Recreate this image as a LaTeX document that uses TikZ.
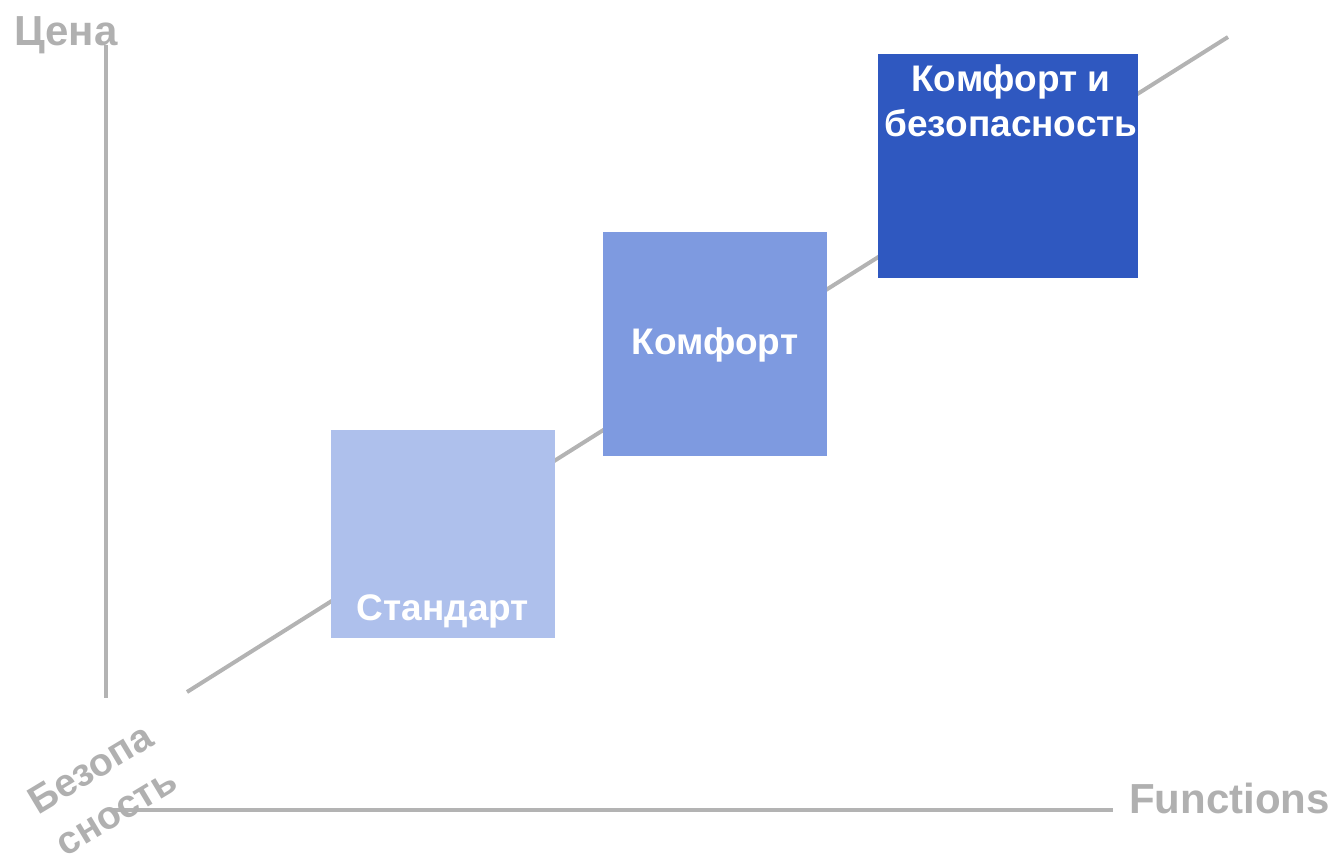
\documentclass[tikz,border=0pt]{standalone}
\usepackage{fontspec}
\setmainfont{Liberation Sans}
\definecolor{axisgray}{HTML}{B3B3B3}
\definecolor{textgray}{HTML}{B0B0B0}
\definecolor{boxlight}{HTML}{AEC0EC}
\definecolor{boxmid}{HTML}{7E9AE0}
\definecolor{boxdark}{HTML}{2F58C0}
\tikzset{
  axisline/.style={draw=axisgray, line width=4pt},
  axislabel/.style={text=textgray, font=\fontsize{42}{48}\selectfont\bfseries, inner sep=0pt},
  levelbox/.style={rectangle, inner sep=0pt, draw=none, anchor=north west},
  boxtext/.style={text=white, font=\fontsize{37}{45}\selectfont\bfseries, inner sep=0pt, align=center},
}
\begin{document}
\begin{tikzpicture}[x=1pt,y=-1pt]
\useasboundingbox (0,0) rectangle (1334,863);
% axes
\coordinate (vtop) at (106,45);
\coordinate (vbot) at (106,698);
\coordinate (hleft) at (110,810);
\coordinate (hright) at (1113,810);
\coordinate (dstart) at (187,692);
\coordinate (dend) at (1228,37);
\draw[axisline] (vtop) -- (vbot);
\draw[axisline] (hleft) -- (hright);
\draw[axisline] (dstart) -- (dend);
% boxes
\node[levelbox, fill=boxlight, minimum width=224pt, minimum height=208pt] (std) at (331,430) {};
\node[levelbox, fill=boxmid, minimum width=224pt, minimum height=224pt] (cmf) at (603,232) {};
\node[levelbox, fill=boxdark, minimum width=260pt, minimum height=224pt] (cmfs) at (878,54) {};
% box texts
\node[boxtext] (stdtxt) at (443,611) {Стандарт};
\node[boxtext] (cmftxt) at (715,345) {Комфорт};
\node[boxtext, anchor=north] (cmfstxt) at (1011,64) {Комфорт и\\безопасность};
% axis labels
\node[axislabel, anchor=base west] (price) at (14,45) {Цена};
\node[axislabel, anchor=base west] (func) at (1129,813) {Functions};
\node[axislabel, font=\fontsize{39}{50}\selectfont\bfseries, align=center, rotate=31] (safety) at (103,790) {Безопа\\сность};
\end{tikzpicture}
\end{document}
